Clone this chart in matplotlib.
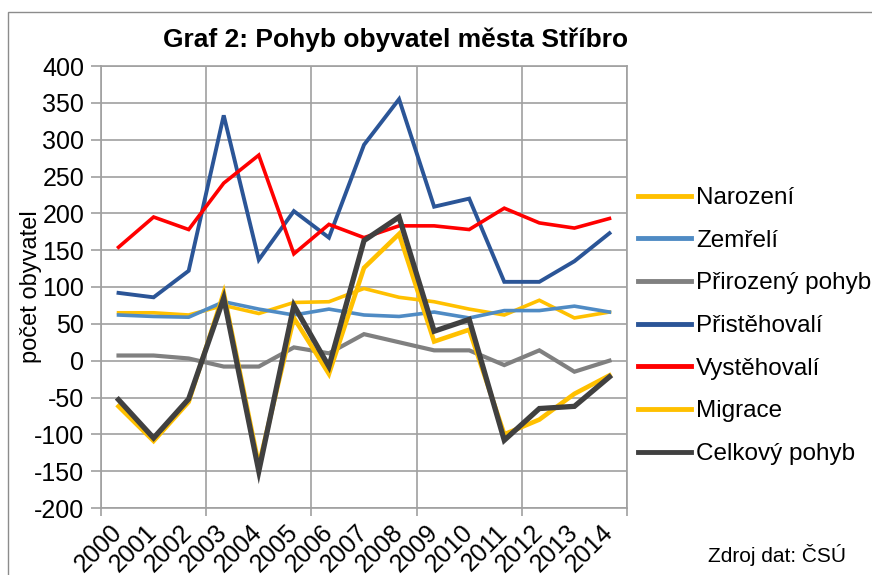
import numpy as np
import matplotlib
matplotlib.use("Agg")
import matplotlib.pyplot as plt
from matplotlib.patches import Rectangle

plt.rcParams['font.family'] = ['Liberation Sans', 'DejaVu Sans']
plt.rcParams['axes.unicode_minus'] = False

# data
years = [2000, 2001, 2002, 2003, 2004, 2005, 2006, 2007, 2008, 2009, 2010, 2011, 2012, 2013, 2014]
narozeni = [65, 65, 62, 75, 64, 79, 80, 98, 86, 80, 70, 62, 82, 58, 66]
zemreli = [62, 60, 59, 80, 70, 62, 70, 62, 60, 66, 58, 68, 68, 74, 66]
prirozeny = [7, 7, 3, -8, -8, 18, 10, 36, 25, 14, 14, -6, 14, -15, 0]
pristehovali = [92, 86, 122, 333, 137, 203, 167, 293, 355, 209, 220, 107, 107, 135, 173]
vystehovali = [154, 195, 178, 241, 279, 145, 185, 167, 183, 183, 178, 207, 187, 180, 193]
migrace = [-62, -109, -56, 92, -142, 58, -18, 126, 172, 26, 42, -100, -80, -45, -20]
celkovy = [-53, -105, -52, 85, -150, 75, -8, 163, 195, 40, 56, -108, -65, -62, -22]

series = [
    ('Narození', narozeni, '#FFC000', 2.6),
    ('Zemřelí', zemreli, '#4F8BC4', 2.6),
    ('Přirozený pohyb', prirozeny, '#808080', 3.0),
    ('Přistěhovalí', pristehovali, '#2B5597', 2.8),
    ('Vystěhovalí', vystehovali, '#FF0000', 2.6),
    ('Migrace', migrace, '#FFC000', 3.3),
    ('Celkový pohyb', celkovy, '#404040', 3.8),
]

W, H = 872, 575
fig = plt.figure(figsize=(W / 100, H / 100), dpi=100)
ax = fig.add_axes([101 / W, 1 - 508 / H, (627 - 101) / W, (508 - 66) / H])

x = np.arange(len(years))
for name, vals, col, lw in series:
    ax.plot(x, vals, color=col, lw=lw, label=name, solid_joinstyle='miter')

grid_c = '#a0a0a0'
ax.set_xlim(-0.5, len(years) - 0.5)
ax.set_ylim(-200, 400)
ax.set_yticks(np.arange(-200, 401, 50))
ax.set_xticks(x)
ax.set_xticklabels([str(y) for y in years])
ax.set_xticks(np.arange(-0.5, len(years), 3), minor=True)
ax.grid(True, axis='y', color=grid_c, lw=1.2)
ax.grid(True, axis='x', which='minor', color=grid_c, lw=1.2)
ax.set_axisbelow(True)
for s in ax.spines.values():
    s.set_color(grid_c)
    s.set_linewidth(1.2)

ax.tick_params(axis='y', length=7, width=1.2, color=grid_c, labelsize=18, pad=5)
ax.tick_params(axis='x', which='major', length=0, labelsize=18, pad=15)
ax.tick_params(axis='x', which='minor', length=6, width=1.2, color=grid_c)
for lab in ax.get_xticklabels():
    lab.set_rotation(45)
    lab.set_rotation_mode('anchor')
    lab.set_ha('right')
    lab.set_va('center')

ax.set_ylabel('počet obyvatel', fontsize=17, labelpad=-6)

fig.text(396 / W, 1 - 40 / H, 'Graf 2: Pohyb obyvatel města Stříbro',
         ha='center', va='center', fontsize=19, fontweight='bold')
fig.text(708 / W, 1 - 555 / H, 'Zdroj dat: ČSÚ', ha='left', va='center', fontsize=15)

leg = fig.legend(loc='upper left', bbox_to_anchor=(638 / W, 1 - 187 / H),
                 frameon=False, fontsize=17.5, handlelength=2.2, handletextpad=0.2,
                 labelspacing=0.85, borderpad=0, borderaxespad=0)
for h in leg.legend_handles:
    h.set_linewidth(3.5)

fig.patches.append(Rectangle((8 / W, -0.1), 1.2, 1 - 12 / H + 0.1,
                             transform=fig.transFigure, fill=False,
                             edgecolor='#8c8c8c', lw=1.0))

fig.savefig('out.png', dpi=100)
